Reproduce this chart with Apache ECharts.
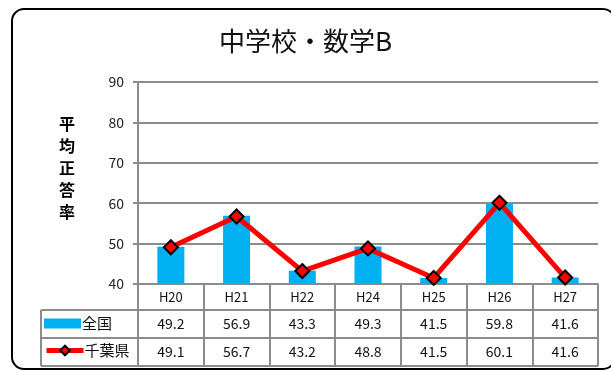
<!DOCTYPE html>
<html><head><meta charset="utf-8">
<script src="https://cdn.jsdelivr.net/npm/echarts@6/dist/echarts.min.js"></script>
<style>html,body{margin:0;padding:0;background:#fff}#c{width:611px;height:372px}</style>
</head><body><div id="c"></div>
<script>
const categories = ['H20','H21','H22','H24','H25','H26','H27'];
const nationalValues = [49.2, 56.9, 43.3, 49.3, 41.5, 59.8, 41.6];
const chibaValues = [49.1, 56.7, 43.2, 48.8, 41.5, 60.1, 41.6];
const nationalName = '全国';
const chibaName = '千葉県';
const titleText = '中学校・数学B';
const yAxisTitle = '平均正答率';

const FONT = '"Noto Sans CJK JP", "Noto Sans", sans-serif';
const GRAY = '#8c8c8c';
const chart = echarts.init(document.getElementById('c'), null, {renderer:'canvas'});

const gridTop = 82, gridBottomY = 284, rowH1 = 26, rowH = 28;
const tableLeft = 41, tableRight = 598;

const legendText = {fontFamily: FONT, fontSize: 15, color: '#111', padding: [0,0,0,-4]};

chart.setOption({
  animation: false,
  title: {
    text: titleText, left: 'center', top: 23,
    textStyle: {fontFamily: FONT, fontSize: 26, fontWeight: 'normal', color: '#111'}
  },
  legend: [
    {
      left: 44, top: 316, padding: 0,
      itemWidth: 37, itemHeight: 10,
      textStyle: legendText,
      data: [{name: nationalName, icon: 'rect'}]
    },
    {
      left: 44, top: 343, padding: 0,
      itemWidth: 37, itemHeight: 12,
      textStyle: legendText,
      lineStyle: {width: 5, color: '#FF0000'},
      data: [{name: chibaName}]
    }
  ],
  grid: {left: 138, right: 611 - tableRight, top: gridTop, bottom: 372 - gridBottomY, containLabel: false},
  xAxis: {
    type: 'category', data: categories, boundaryGap: true,
    axisLine: {show: true, lineStyle: {color: GRAY, width: 2}},
    axisTick: {show: true, length: rowH1 + 2 * rowH, interval: 0, lineStyle: {color: GRAY, width: 2}},
    axisLabel: {
      interval: 0, margin: 0, fontFamily: FONT, color: '#111',
      formatter: function (v, i) {
        return '{h|' + v + '}\n{v|' + nationalValues[i].toFixed(1) + '}\n{v|' + chibaValues[i].toFixed(1) + '}';
      },
      rich: {
        h: {fontFamily: FONT, fontSize: 13, lineHeight: rowH1, color: '#111'},
        v: {fontFamily: FONT, fontSize: 14, lineHeight: rowH, color: '#111'}
      }
    }
  },
  yAxis: {
    type: 'value', min: 40, max: 90, interval: 10,
    axisLine: {show: true, lineStyle: {color: GRAY, width: 2}},
    axisTick: {show: true, length: 5, lineStyle: {color: GRAY, width: 2}},
    axisLabel: {margin: 14, fontFamily: FONT, fontSize: 14, color: '#222'},
    splitLine: {show: true, lineStyle: {color: GRAY, width: 2}}
  },
  series: [
    {
      name: nationalName, type: 'bar', data: nationalValues, barWidth: 27,
      itemStyle: {color: '#00B0F0'}, z: 2
    },
    {
      name: chibaName, type: 'line', data: chibaValues,
      symbol: 'diamond', symbolSize: 14,
      lineStyle: {color: '#FF0000', width: 5},
      itemStyle: {color: '#FF0000', borderColor: '#000', borderWidth: 2},
      z: 5
    }
  ],
  graphic: [
    {type: 'rect', shape: {x: 12, y: 9, width: 603, height: 360, r: 12}, style: {fill: 'none', stroke: '#000', lineWidth: 2}, silent: true, z: 10},
    {type: 'text', left: 59, top: 113, style: {text: yAxisTitle.split('').join('\n'), font: 'bold 16px ' + FONT, lineHeight: 22, fill: '#000'}},
    {type: 'line', shape: {x1: tableLeft, y1: gridBottomY + rowH1, x2: tableRight, y2: gridBottomY + rowH1}, style: {stroke: GRAY, lineWidth: 2}},
    {type: 'line', shape: {x1: tableLeft, y1: gridBottomY + rowH1 + rowH, x2: tableRight, y2: gridBottomY + rowH1 + rowH}, style: {stroke: GRAY, lineWidth: 2}},
    {type: 'line', shape: {x1: tableLeft, y1: gridBottomY + rowH1 + 2 * rowH, x2: tableRight, y2: gridBottomY + rowH1 + 2 * rowH}, style: {stroke: GRAY, lineWidth: 2}},
    {type: 'line', shape: {x1: tableLeft, y1: gridBottomY + rowH1, x2: tableLeft, y2: gridBottomY + rowH1 + 2 * rowH}, style: {stroke: GRAY, lineWidth: 2}},
    {type: 'line', shape: {x1: 138, y1: gridBottomY + rowH1, x2: 138, y2: gridBottomY + rowH1 + 2 * rowH}, style: {stroke: GRAY, lineWidth: 2}}
  ]
});
</script></body></html>
